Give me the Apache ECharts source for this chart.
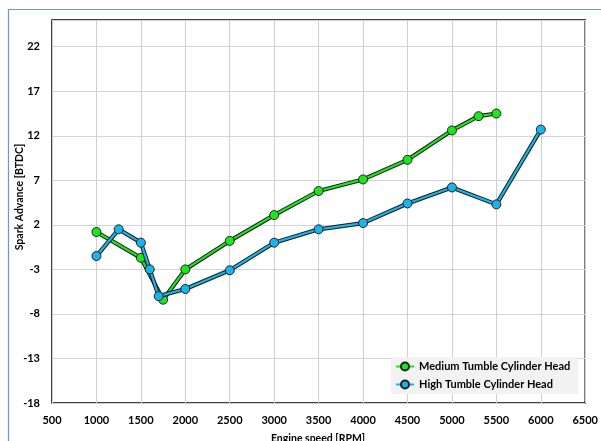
<!DOCTYPE html>
<html>
<head>
<meta charset="utf-8">
<script src="https://cdn.jsdelivr.net/npm/echarts@6/dist/echarts.min.js"></script>
<style>
html,body{margin:0;padding:0;background:#fff;}
#c{width:601px;height:441px;}
</style>
</head>
<body>
<div id="c"></div>
<script>
const seriesNames = ['Medium Tumble Cylinder Head', 'High Tumble Cylinder Head'];
const mediumRpm = [1000, 1500, 1750, 2000, 2500, 3000, 3500, 4000, 4500, 5000, 5300, 5500];
const mediumAdv = [1.2, -1.7, -6.4, -3.0, 0.2, 3.1, 5.8, 7.1, 9.3, 12.6, 14.2, 14.5];
const highRpm = [1000, 1250, 1500, 1600, 1700, 2000, 2500, 3000, 3500, 4000, 4500, 5000, 5500, 6000];
const highAdv = [-1.5, 1.5, 0.0, -3.0, -6.0, -5.2, -3.1, 0.0, 1.5, 2.2, 4.4, 6.2, 4.3, 12.7];
const xAxisTitle = 'Engine speed [RPM]';
const yAxisTitle = 'Spark Advance [BTDC]';

const FONT = 'Lato, "Open Sans", sans-serif';
const colors = ['#1ee61e', '#1ab4ea'];
const pairs = (xs, ys) => xs.map((x, i) => [x, ys[i]]);
const datasets = [pairs(mediumRpm, mediumAdv), pairs(highRpm, highAdv)];

const series = [];
datasets.forEach((d, i) => {
  series.push({
    name: seriesNames[i] + ' outline',
    type: 'line', data: d, showSymbol: false, silent: true,
    lineStyle: { color: '#1a1a1a', width: 4.2 }, z: 2 + i * 2, animation: false
  });
  series.push({
    name: seriesNames[i],
    type: 'line', data: d, symbol: 'circle', symbolSize: 9,
    lineStyle: { color: colors[i], width: 2.2 },
    itemStyle: { color: colors[i], borderColor: '#222', borderWidth: 1 },
    z: 3 + i * 2, animation: false
  });
});

const chart = echarts.init(document.getElementById('c'), null, { renderer: 'canvas' });
chart.setOption({
  backgroundColor: '#fff',
  animation: false,
  grid: { left: 52, right: 8, top: 20, bottom: 38, show: true, borderColor: '#000', borderWidth: 1.5, backgroundColor: 'transparent' },
  xAxis: {
    type: 'value', min: 500, max: 6500, interval: 500,
    axisLine: { show: false }, axisTick: { show: false },
    axisLabel: { color: '#000', fontFamily: FONT, fontWeight: 'bold', fontSize: 11, margin: 12, formatter: v => String(v) },
    splitLine: { lineStyle: { color: '#cfcfcf', width: 1 } }
  },
  yAxis: {
    type: 'value', min: -18, max: 25, interval: 5,
    axisLine: { show: false }, axisTick: { show: false },
    axisLabel: { color: '#000', fontFamily: FONT, fontWeight: 'bold', fontSize: 11, margin: 12, showMaxLabel: false, formatter: v => String(v) },
    splitLine: { lineStyle: { color: '#d4d4d4', width: 1 } }
  },
  legend: {
    data: seriesNames,
    orient: 'vertical', left: 391, top: 357,
    backgroundColor: '#f2f2f2', padding: [4, 8, 4, 4], itemGap: 7,
    itemWidth: 18, itemHeight: 10,
    textStyle: { color: '#000', fontFamily: FONT, fontWeight: 'bold', fontSize: 11 }
  },
  graphic: [
    { type: 'rect', shape: { x: 8.5, y: 9.5, width: 700, height: 500 }, style: { fill: 'none', stroke: '#6f95c9', lineWidth: 1.2 }, silent: true },
    { type: 'text', x: 20, y: 197, rotation: Math.PI / 2, style: { text: yAxisTitle, fill: '#000', font: 'bold 10.5px ' + FONT, align: 'center', verticalAlign: 'middle' } },
    { type: 'text', x: 318, y: 433, style: { text: xAxisTitle, fill: '#000', font: 'bold 10.5px ' + FONT, align: 'center', verticalAlign: 'top' } }
  ],
  series: series
});
</script>
</body>
</html>
